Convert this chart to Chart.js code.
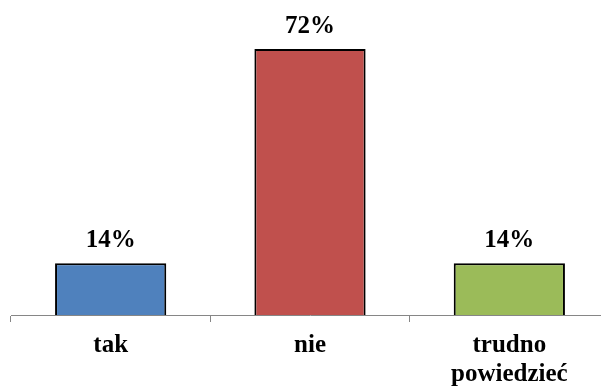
<!DOCTYPE html>
<html>
<head>
<meta charset="utf-8">
<script src="https://cdn.jsdelivr.net/npm/chart.js@4"></script>
<style>
  html, body { margin: 0; padding: 0; background: #fff; overflow: hidden; }
  #wrap { width: 601px; height: 389px; overflow: hidden; }
</style>
</head>
<body>
<div id="wrap"><canvas id="chart" width="609" height="389"></canvas></div>
<script>
const categories = ["tak", "nie", ["trudno", "powiedzieć"]];
const values = [14, 72, 14];
const valueLabels = ["14%", "72%", "14%"];
const barColors = ["#4F81BD", "#C0504D", "#9BBB59"];

const serif = "'Liberation Serif', 'Times New Roman', serif";

// draws the percentage above each bar
const valueLabelPlugin = {
  id: "valueLabels",
  afterDatasetsDraw(chart) {
    const ctx = chart.ctx;
    const meta = chart.getDatasetMeta(0);
    ctx.save();
    ctx.font = "bold 25px " + serif;
    ctx.fillStyle = "#000";
    ctx.textAlign = "center";
    ctx.textBaseline = "alphabetic";
    meta.data.forEach((bar, i) => {
      ctx.fillText(valueLabels[i], bar.x, bar.y - 16);
    });
    ctx.restore();
  }
};

new Chart(document.getElementById("chart"), {
  type: "bar",
  data: {
    labels: categories,
    datasets: [{
      data: values,
      backgroundColor: barColors,
      borderColor: "#000",
      borderWidth: 2,
      categoryPercentage: 1,
      barPercentage: 0.558
    }]
  },
  options: {
    responsive: false,
    animation: false,
    layout: { padding: { left: 11, right: 0, top: 0, bottom: 0 } },
    plugins: {
      legend: { display: false },
      tooltip: { enabled: false }
    },
    scales: {
      y: {
        display: false,
        min: 0,
        max: 85.3
      },
      x: {
        offset: true,
        afterFit: (scale) => { scale.height = 74; },
        border: { display: true, color: "#868686", width: 1 },
        grid: {
          display: true,
          offset: true,
          drawOnChartArea: false,
          drawTicks: true,
          tickLength: 7,
          color: "#868686"
        },
        ticks: {
          color: "#000",
          font: { family: serif, size: 25, weight: "bold", lineHeight: 1.16 },
          padding: 9,
          maxRotation: 0,
          autoSkip: false
        }
      }
    }
  },
  plugins: [valueLabelPlugin]
});
</script>
</body>
</html>
